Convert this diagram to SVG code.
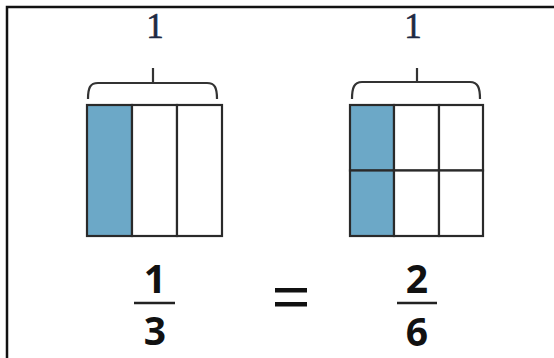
<svg xmlns="http://www.w3.org/2000/svg" width="554" height="358" viewBox="0 0 554 358">
<style>
.frame{stroke:#111;stroke-width:2.5;fill:none}
.cell{fill:#fff;stroke:#2a2a2a;stroke-width:2.2}
.shade{fill:#6ca8c7;stroke:#2a2a2a;stroke-width:2.2}
.brace{fill:none;stroke:#333;stroke-width:2.2}
.one{font-family:"Liberation Serif","DejaVu Serif",serif;font-size:35px;fill:#1f2a44;stroke:#1f2a44;stroke-width:0.6;text-anchor:middle}
.num{font-family:"Open Sans","Noto Sans",sans-serif;font-weight:bold;font-size:39px;fill:#111;text-anchor:middle}
.bar{stroke:#222;stroke-width:2.5}
</style>
<rect width="554" height="358" fill="#fff"/>
<path class="frame" d="M7,358 V7 H554"/>
<g id="left-model">
<text class="one" x="155" y="38">1</text>
<path class="brace" d="M88,99 C88,88 90,83 98,83 L207,83 C215,83 217,88 217,99 M153,83 V68"/>
<rect class="shade" x="87" y="105" width="45" height="131"/>
<rect class="cell" x="132" y="105" width="45" height="131"/>
<rect class="cell" x="177" y="105" width="45" height="131"/>
</g>
<g id="right-model">
<text class="one" x="413" y="38">1</text>
<path class="brace" d="M352,99 C352,88 354,82 362,82 L470,82 C478,82 480,88 480,99 M417,82 V68"/>
<rect class="shade" x="350" y="105" width="44" height="65.5"/>
<rect class="shade" x="350" y="170.5" width="44" height="65.5"/>
<rect class="cell" x="394" y="105" width="45" height="65.5"/>
<rect class="cell" x="439" y="105" width="44" height="65.5"/>
<rect class="cell" x="394" y="170.5" width="45" height="65.5"/>
<rect class="cell" x="439" y="170.5" width="44" height="65.5"/>
</g>
<g id="fraction-left">
<text class="num" x="155" y="293">1</text>
<line class="bar" x1="134" y1="303" x2="175" y2="303"/>
<text class="num" x="155" y="345">3</text>
</g>
<g id="equals">
<rect x="275" y="288" width="32" height="4.5" fill="#111"/>
<rect x="275" y="302" width="32" height="4.5" fill="#111"/>
</g>
<g id="fraction-right">
<text class="num" x="417" y="293">2</text>
<line class="bar" x1="397" y1="303" x2="437" y2="303"/>
<text class="num" x="417" y="346">6</text>
</g>
</svg>
